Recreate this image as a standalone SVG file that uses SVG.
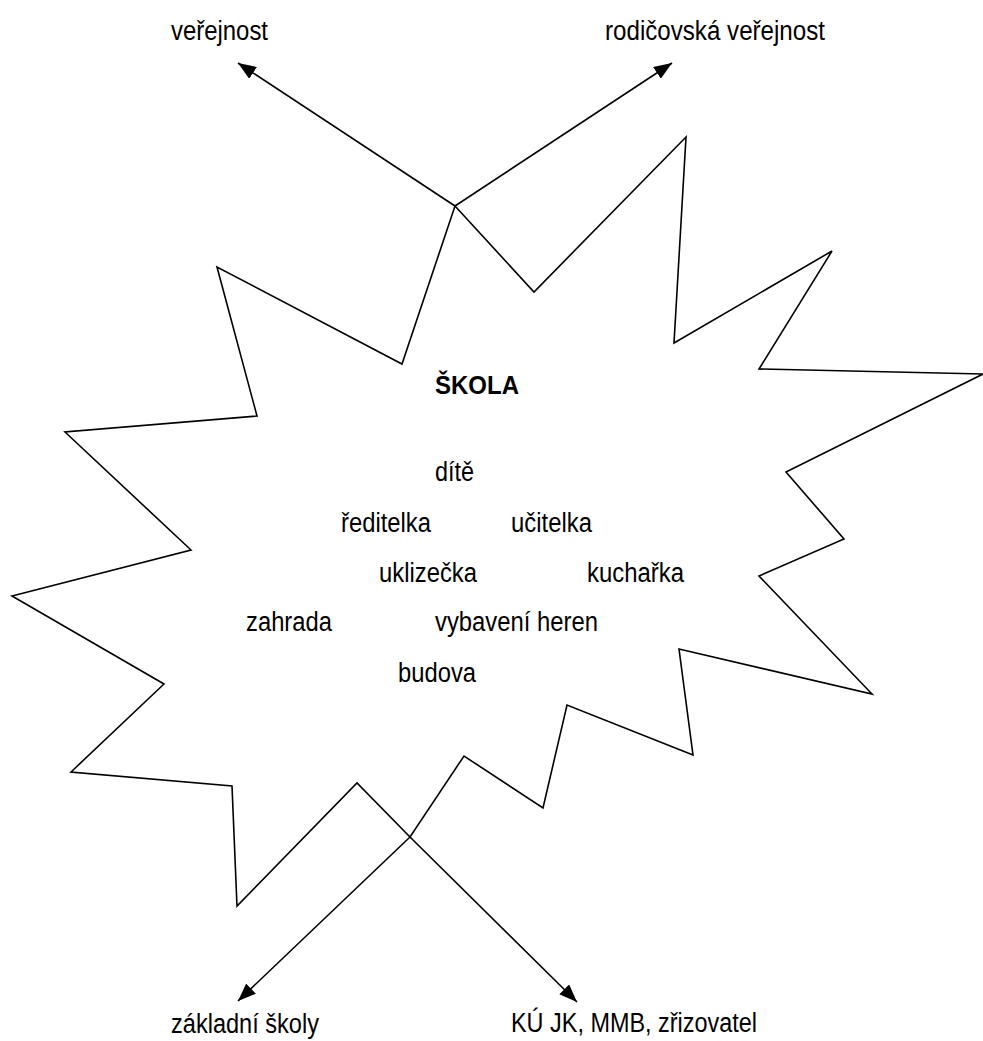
<svg xmlns="http://www.w3.org/2000/svg" width="983" height="1041" viewBox="0 0 983 1041">
  <style>
    .lbl { font-family: "Liberation Sans", Arial, sans-serif; font-size: 27px; fill: #000; }
    .bold { font-weight: bold; font-size: 26px; }
    .shape { fill: none; stroke: #000; stroke-width: 1.6; stroke-linejoin: miter; }
    .conn { stroke: #000; stroke-width: 1.6; fill: none; marker-end: url(#arrow); }
  </style>
  <defs>
    <marker id="arrow" markerUnits="userSpaceOnUse" markerWidth="18" markerHeight="14" viewBox="0 0 18 14" refX="18" refY="7" orient="auto">
      <path d="M0,0 L18,7 L0,14 z" fill="#000"/>
    </marker>
  </defs>
  <rect width="983" height="1041" fill="#fff"/>

  <g id="skola">
    <polygon class="shape" points="455,206 534,292 686,137 674,343 832,251 759,369 983,374 786,472 844,539 759,576 872,694 679,649 693,755 567,705 543,808 464,756 410,837 357,783 237,906 232,786 71,772 164,684 12,596 191,550 65,432 257,416 217,267 402,364"/>
    <text class="lbl bold" x="435" y="394" textLength="84" lengthAdjust="spacingAndGlyphs">ŠKOLA</text>
    <text class="lbl" x="435" y="481" textLength="39" lengthAdjust="spacingAndGlyphs">dítě</text>
    <text class="lbl" x="341" y="532" textLength="90" lengthAdjust="spacingAndGlyphs">ředitelka</text>
    <text class="lbl" x="511" y="532" textLength="81" lengthAdjust="spacingAndGlyphs">učitelka</text>
    <text class="lbl" x="379" y="582" textLength="98" lengthAdjust="spacingAndGlyphs">uklizečka</text>
    <text class="lbl" x="587" y="582" textLength="97" lengthAdjust="spacingAndGlyphs">kuchařka</text>
    <text class="lbl" x="246" y="631" textLength="86" lengthAdjust="spacingAndGlyphs">zahrada</text>
    <text class="lbl" x="435" y="631" textLength="163" lengthAdjust="spacingAndGlyphs">vybavení heren</text>
    <text class="lbl" x="398" y="682" textLength="78" lengthAdjust="spacingAndGlyphs">budova</text>
  </g>

  <g id="verejnost">
    <text class="lbl" x="171" y="40" textLength="97" lengthAdjust="spacingAndGlyphs">veřejnost</text>
  </g>
  <g id="rodicovska-verejnost">
    <text class="lbl" x="605" y="40" textLength="220" lengthAdjust="spacingAndGlyphs">rodičovská veřejnost</text>
  </g>
  <g id="zakladni-skoly">
    <text class="lbl" x="171" y="1033" textLength="148" lengthAdjust="spacingAndGlyphs">základní školy</text>
  </g>
  <g id="ku-jk">
    <text class="lbl" x="511" y="1032" textLength="246" lengthAdjust="spacingAndGlyphs">KÚ JK, MMB, zřizovatel</text>
  </g>

  <g id="connectors">
    <line class="conn" x1="455" y1="206" x2="238" y2="63"/>
    <line class="conn" x1="455" y1="206" x2="672" y2="63"/>
    <line class="conn" x1="410" y1="837" x2="238" y2="1001"/>
    <line class="conn" x1="410" y1="837" x2="577" y2="1002"/>
  </g>
</svg>
